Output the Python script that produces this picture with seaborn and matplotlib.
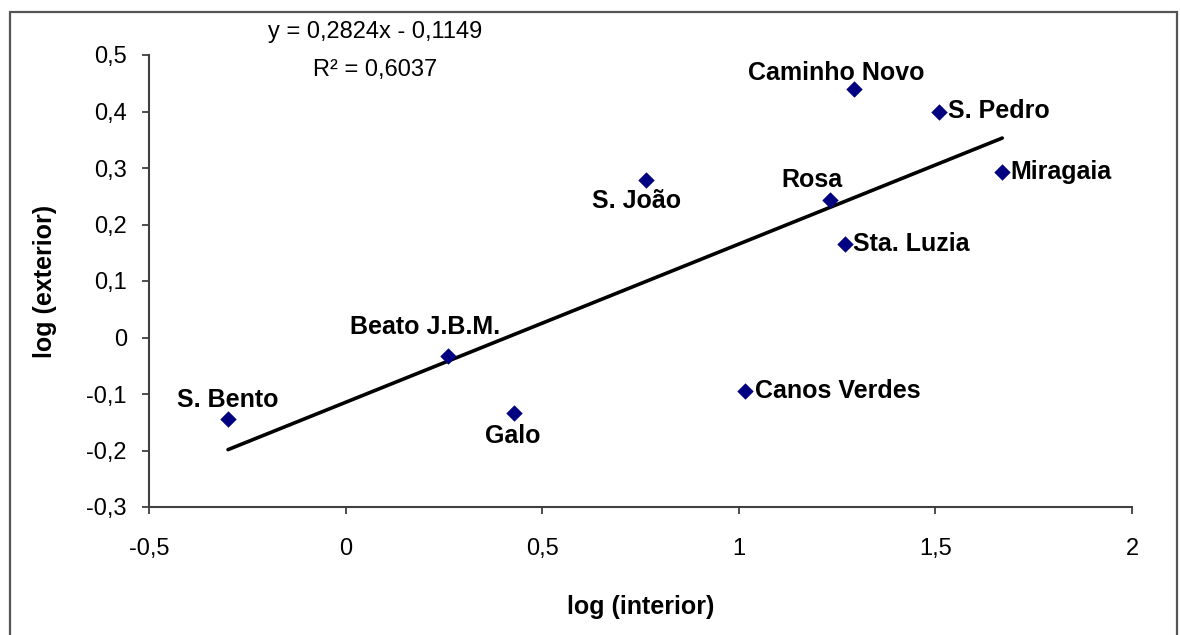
import matplotlib
matplotlib.use("Agg")
import matplotlib.pyplot as plt
import seaborn as sns
import pandas as pd
from matplotlib.patches import Rectangle

# Data
sites = ["S. Bento", "Beato J.B.M.", "Galo", "S. João", "Canos Verdes",
         "Rosa", "Sta. Luzia", "Caminho Novo", "S. Pedro", "Miragaia"]
log_interior = [-0.299, 0.260, 0.429, 0.763, 1.017, 1.233, 1.270, 1.293, 1.509, 1.670]
log_exterior = [-0.144, -0.033, -0.133, 0.278, -0.094, 0.243, 0.165, 0.439, 0.400, 0.293]

equation_text = "y = 0,2824x - 0,1149"
r2_text = "R² = 0,6037"

x_ticks = [-0.5, 0, 0.5, 1, 1.5, 2]
x_tick_labels = ["-0,5", "0", "0,5", "1", "1,5", "2"]
y_ticks = [-0.3, -0.2, -0.1, 0, 0.1, 0.2, 0.3, 0.4, 0.5]
y_tick_labels = ["-0,3", "-0,2", "-0,1", "0", "0,1", "0,2", "0,3", "0,4", "0,5"]

# label placement (offset in pixels, horizontal alignment)
label_pos = {
    "S. Bento": ((0, 19), "center"),
    "Beato J.B.M.": ((-23, 29), "center"),
    "Galo": ((-2, -23), "center"),
    "S. João": ((-9, -21), "center"),
    "Canos Verdes": ((10, 0), "left"),
    "Rosa": ((-18, 20), "center"),
    "Sta. Luzia": ((8, 0), "left"),
    "Caminho Novo": ((-18, 16), "center"),
    "S. Pedro": ((9, 0), "left"),
    "Miragaia": ((8, 0), "left"),
}

df = pd.DataFrame({"site": sites, "interior": log_interior, "exterior": log_exterior})

sns.set_style("white")
plt.rcParams['font.family'] = ['Liberation Sans', 'DejaVu Sans']
plt.rcParams['text.color'] = 'black'
plt.rcParams['axes.labelcolor'] = 'black'
plt.rcParams['xtick.color'] = 'black'
plt.rcParams['ytick.color'] = 'black'

fig = plt.figure(figsize=(11.8, 6.35), dpi=100)
ax = fig.add_axes([149 / 1180, 1 - 507 / 635, (1132 - 149) / 1180, (507 - 55) / 635])

sns.regplot(data=df, x="interior", y="exterior", ax=ax, ci=None, truncate=True,
            marker="D",
            scatter_kws=dict(s=70, color="#000080", alpha=1, linewidths=0, zorder=3),
            line_kws=dict(color="black", lw=2.6, zorder=2))

for name, xv, yv in zip(sites, log_interior, log_exterior):
    off, ha = label_pos[name]
    ax.annotate(name, (xv, yv), xytext=off, textcoords="offset pixels",
                ha=ha, va="center", fontsize=18, fontweight="bold", color="black")

ax.text(0.074, 0.541, equation_text, ha="center", va="center", fontsize=17,
        transform=ax.transData, clip_on=False)
ax.text(0.074, 0.474, r2_text, ha="center", va="center", fontsize=17,
        transform=ax.transData, clip_on=False)

ax.set_xlim(-0.5, 2)
ax.set_ylim(-0.3, 0.5)
ax.set_xticks(x_ticks)
ax.set_xticklabels(x_tick_labels)
ax.set_yticks(y_ticks)
ax.set_yticklabels(y_tick_labels)
ax.tick_params(axis="x", direction="out", length=5, width=1.3, color="#404040",
               labelsize=17, labelcolor="black", pad=17, bottom=True)
ax.tick_params(axis="y", direction="out", length=5, width=1.3, color="#404040",
               labelsize=17, labelcolor="black", pad=11, left=True)

for side in ["top", "right"]:
    ax.spines[side].set_visible(False)
for side in ["left", "bottom"]:
    ax.spines[side].set_color("#404040")
    ax.spines[side].set_linewidth(1.5)

ax.set_xlabel("log (interior)", fontsize=18, fontweight="bold", color="black")
ax.set_ylabel("log (exterior)", fontsize=18, fontweight="bold", color="black")
ax.xaxis.set_label_coords(0.5, -0.195)
ax.yaxis.set_label_coords(-0.094, 0.5)

# outer chart frame
fig.patches.append(Rectangle((10 / 1180, -0.02), (1177 - 10) / 1180, 1 - 12 / 635 + 0.02,
                             transform=fig.transFigure, fill=False,
                             edgecolor="#555555", lw=1.6))

fig.savefig("out.png", dpi=100)
